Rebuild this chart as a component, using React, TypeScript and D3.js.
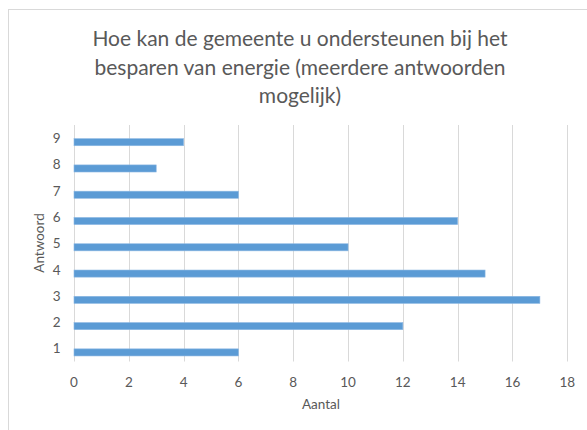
import React from "react";
import * as d3 from "d3";

const categories = ["1", "2", "3", "4", "5", "6", "7", "8", "9"];
const values = [6, 12, 17, 15, 10, 14, 6, 3, 4];
const xTicks = [0, 2, 4, 6, 8, 10, 12, 14, 16, 18];
const titleLines = [
  "Hoe kan de gemeente u ondersteunen bij het",
  "besparen van energie (meerdere antwoorden",
  "mogelijk)",
];
const xTitle = "Aantal";
const yTitle = "Antwoord";

const W = 587;
const H = 430;
const FONT = "Lato, 'Noto Sans', sans-serif";
const TEXT = "#595959";

export default function App() {
  const left = 74;
  const right = 567.3;
  const top = 125;
  const bottom = 361.5;
  const x = d3.scaleLinear().domain([0, 18]).range([left, right]);
  const y = d3
    .scaleBand<string>()
    .domain([...categories].reverse())
    .range([top, bottom])
    .paddingInner(0.46)
    .paddingOuter(0.23);
  const sub = d3.scaleBand<string>().domain(["empty", "value"]).range([0, y.bandwidth()]);
  const center = (c: string) => y(c)! + y.bandwidth() / 2;

  return (
    <svg
      width={W}
      height={H}
      style={{ position: "absolute", left: 0, top: 0, background: "#fff" }}
      fontFamily={FONT}
    >
      <rect x={8.5} y={9.5} width={600} height={440} fill="#fff" stroke="#D9D9D9" />
      {titleLines.map((t, i) => (
        <text
          key={i}
          x={300}
          y={46 + i * 28.5}
          textAnchor="middle"
          fontSize={21}
          fill={TEXT}
        >
          {t}
        </text>
      ))}
      {xTicks.map((t) => (
        <g key={t}>
          <line
            x1={Math.round(x(t)) + 0.5}
            x2={Math.round(x(t)) + 0.5}
            y1={top}
            y2={bottom}
            stroke="#D9D9D9"
            strokeWidth={1}
          />
          <text x={x(t)} y={387} textAnchor="middle" fontSize={13.5} fill={TEXT}>
            {t}
          </text>
        </g>
      ))}
      {categories.map((c, i) => (
        <g key={c}>
          <rect
            x={x(0)}
            y={y(c)! + sub("value")! + 0.5}
            width={x(values[i]) - x(0)}
            height={sub.bandwidth()}
            fill="#5B9BD5"
            stroke="#8DB8E3"
            strokeWidth={0.6}
          />
          <text
            x={60.5}
            y={center(c) + 5}
            textAnchor="end"
            fontSize={13.5}
            fill={TEXT}
          >
            {c}
          </text>
        </g>
      ))}
      <text x={321} y={409} textAnchor="middle" fontSize={13.5} fill={TEXT}>
        {xTitle}
      </text>
      <text
        transform={`translate(43.5, 243) rotate(-90)`}
        textAnchor="middle"
        fontSize={13.5}
        fill={TEXT}
      >
        {yTitle}
      </text>
    </svg>
  );
}
